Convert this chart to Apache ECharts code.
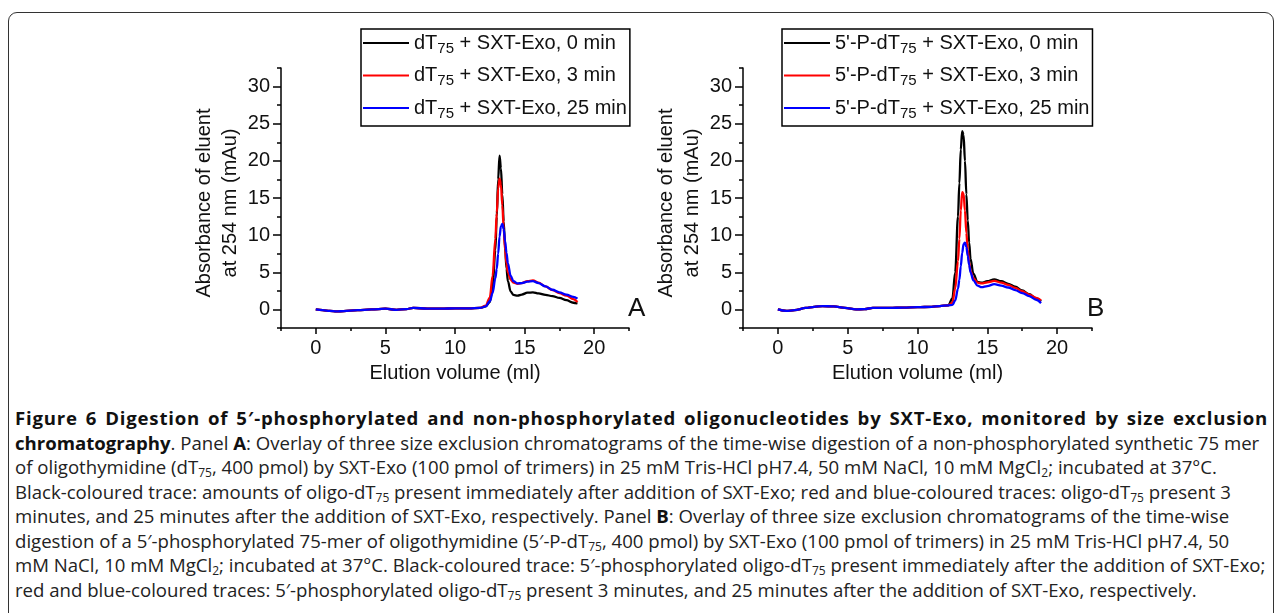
<!DOCTYPE html>
<html>
<head>
<meta charset="utf-8">
<script src="https://cdn.jsdelivr.net/npm/echarts@6/dist/echarts.min.js"></script>
<style>
  html, body { margin: 0; padding: 0; background: #fff; }
  #wrap { position: relative; width: 1282px; height: 613px; overflow: hidden; background: #fff; }
  #frame { position: absolute; left: 8px; top: 12px; width: 1266px; height: 640px; border: 1.5px solid #333; border-radius: 9px; box-sizing: border-box; }
  #chart { position: absolute; left: 0; top: 0; width: 1282px; height: 400px; }
  #caption { position: absolute; left: 15px; top: 406px; width: 1253px; font-family: "Open Sans", "Noto Sans", sans-serif; font-size: 18.6px; line-height: 24.5px; color: #222; }
  #caption div { white-space: nowrap; }
  #caption div.j { text-align: justify; text-align-last: justify; white-space: normal; letter-spacing: 0.8px; }
  #caption b { color: #111; }
  #caption sub { font-size: 12px; line-height: 0; vertical-align: -3px; }
</style>
</head>
<body>
<div id="wrap">
  <div id="frame"></div>
  <div id="chart"></div>
  <div id="caption">
    <div class="j"><b>Figure 6 Digestion of 5′-phosphorylated and non-phosphorylated oligonucleotides by SXT-Exo, monitored by size exclusion</b></div>
    <div><b>chromatography</b>. Panel <b>A</b>: Overlay of three size exclusion chromatograms of the time-wise digestion of a non-phosphorylated synthetic 75 mer</div>
    <div>of oligothymidine (dT<sub>75</sub>, 400 pmol) by SXT-Exo (100 pmol of trimers) in 25 mM Tris-HCl pH7.4, 50 mM NaCl, 10 mM MgCl<sub>2</sub>; incubated at 37°C.</div>
    <div>Black-coloured trace: amounts of oligo-dT<sub>75</sub> present immediately after addition of SXT-Exo; red and blue-coloured traces: oligo-dT<sub>75</sub> present 3</div>
    <div>minutes, and 25 minutes after the addition of SXT-Exo, respectively. Panel <b>B</b>: Overlay of three size exclusion chromatograms of the time-wise</div>
    <div>digestion of a 5′-phosphorylated 75-mer of oligothymidine (5′-P-dT<sub>75</sub>, 400 pmol) by SXT-Exo (100 pmol of trimers) in 25 mM Tris-HCl pH7.4, 50</div>
    <div>mM NaCl, 10 mM MgCl<sub>2</sub>; incubated at 37°C. Black-coloured trace: 5′-phosphorylated oligo-dT<sub>75</sub> present immediately after the addition of SXT-Exo;</div>
    <div>red and blue-coloured traces: 5′-phosphorylated oligo-dT<sub>75</sub> present 3 minutes, and 25 minutes after the addition of SXT-Exo, respectively.</div>
  </div>
</div>
<script>
// ---------- Data ----------
const xA = [0,0.5,1,1.5,2,3,4,5,5.8,6.5,7,8,9,10,11,11.8,12.2,12.5,12.7,12.9,13,13.1,13.2,13.3,13.4,13.5,13.6,13.7,13.8,14,14.2,14.5,14.8,15.2,15.6,16,16.5,17,17.5,18,18.5,18.8];
const aBlack = [0,-0.1,-0.2,-0.27,-0.22,-0.1,0,0.1,-0.05,0.05,0.2,0.12,0.1,0.15,0.15,0.2,
  0.4,1.0,3.0,8.0,12.5,17.5,20.7,19.0,15.5,11.8,8.3,5.5,3.8,2.4,1.95,1.85,2.0,2.25,2.3,2.15,1.95,1.8,1.55,1.25,0.9,0.8];
const aRed = [0,-0.1,-0.2,-0.27,-0.22,-0.1,0,0.1,-0.05,0.05,0.2,0.12,0.1,0.15,0.15,0.2,
  0.5,1.6,4.5,9.5,13.0,16.3,17.6,16.8,14.0,10.8,8.0,6.2,5.0,4.0,3.6,3.45,3.55,3.8,3.9,3.6,3.1,2.6,2.2,1.85,1.4,1.0];
const aBlue = [0,-0.1,-0.2,-0.27,-0.22,-0.1,0,0.1,-0.05,0.05,0.2,0.12,0.1,0.15,0.15,0.2,
  0.4,1.1,2.2,4.2,5.5,7.5,9.8,11.2,11.5,10.8,9.2,7.6,6.2,4.5,3.8,3.5,3.55,3.75,3.8,3.55,3.1,2.65,2.3,2.0,1.7,1.45];

const xB = [0,0.6,1.2,2,2.6,3.2,4,4.8,5.6,6.2,6.8,8,9,10,11,11.6,12.2,12.5,12.7,12.9,13,13.1,13.2,13.3,13.4,13.5,13.6,13.7,13.8,14,14.3,14.6,15,15.5,16,16.5,17,17.5,18,18.5,18.85];
const bBlack = [0,-0.2,-0.1,0.2,0.35,0.45,0.4,0.2,0.0,0.05,0.2,0.2,0.25,0.3,0.35,0.45,
  0.55,1.5,5.0,12.5,17.0,21.5,24.0,23.5,20.0,15.5,12.0,9.0,6.8,4.8,3.7,3.6,3.8,4.05,3.8,3.45,3.05,2.55,2.05,1.5,1.1];
const bRed = [0,-0.2,-0.1,0.2,0.35,0.45,0.4,0.2,0.0,0.05,0.2,0.2,0.25,0.3,0.35,0.45,
  0.55,0.9,2.8,6.5,9.5,13.3,15.8,15.6,13.3,10.3,8.0,6.3,5.2,4.2,3.6,3.5,3.65,3.85,3.6,3.3,2.9,2.45,2.0,1.55,1.2];
const bBlue = [0,-0.2,-0.1,0.2,0.35,0.45,0.4,0.2,0.0,0.05,0.2,0.2,0.25,0.3,0.35,0.45,
  0.55,0.6,1.2,2.8,4.0,5.8,7.6,8.8,9.0,8.4,7.2,6.0,5.0,3.9,3.2,3.0,3.15,3.4,3.2,2.95,2.6,2.2,1.8,1.3,0.85];

const namesA = ['dT_75 + SXT-Exo, 0 min', 'dT_75 + SXT-Exo, 3 min', 'dT_75 + SXT-Exo, 25 min'];
const namesB = ["5'-P-dT_75 + SXT-Exo, 0 min", "5'-P-dT_75 + SXT-Exo, 3 min", "5'-P-dT_75 + SXT-Exo, 25 min"];
const panelLabels = ['A', 'B'];

const xRange = [-2.5, 22.5];
const yRange = [-2.5, 32.5];
const xMajor = [0, 5, 10, 15, 20];
const xMinor = [-2.5, 2.5, 7.5, 12.5, 17.5, 22.5];
const yMajor = [0, 5, 10, 15, 20, 25, 30];
const yMinor = [-2.5, 2.5, 7.5, 12.5, 17.5, 22.5, 27.5, 32.5];
const xTitle = 'Elution volume (ml)';
const yTitle = 'Absorbance of eluent\nat 254 nm (mAu)';
const colors = ['#000000', '#ff0000', '#0000ff'];

// ---------- Chart ----------
const FONT = '"Liberation Sans", Arial, sans-serif';
const chart = echarts.init(document.getElementById('chart'), null, { renderer: 'canvas' });

const grids = [
  { left: 281, top: 68, width: 348, height: 260 },
  { left: 743, top: 68, width: 349, height: 260 }
];

function pairs(xs, ys) { return xs.map((x, i) => [x, ys[i]]); }

const xAxes = [], yAxes = [];
grids.forEach((g, gi) => {
  xAxes.push({
    type: 'value', gridIndex: gi, min: xRange[0], max: xRange[1], splitNumber: 5,
    axisLine: { show: true, onZero: false, lineStyle: { color: '#000', width: 1.5 } },
    axisTick: { show: true, customValues: xMajor, length: 6, lineStyle: { color: '#000', width: 1.5 } },
    axisLabel: { customValues: xMajor, margin: 10, fontSize: 20, color: '#111', fontFamily: FONT },
    splitLine: { show: false },
    name: xTitle, nameLocation: 'middle', nameGap: 35,
    nameTextStyle: { fontSize: 20, color: '#111', fontFamily: FONT }
  });
  xAxes.push({
    type: 'value', gridIndex: gi, min: xRange[0], max: xRange[1], position: 'bottom',
    axisLine: { show: false, onZero: false },
    axisTick: { show: true, customValues: xMinor, length: 3, lineStyle: { color: '#000', width: 1.5 } },
    axisLabel: { show: false }, splitLine: { show: false }
  });
  yAxes.push({
    type: 'value', gridIndex: gi, min: yRange[0], max: yRange[1], splitNumber: 7,
    axisLine: { show: true, onZero: false, lineStyle: { color: '#000', width: 1.5 } },
    axisTick: { show: true, customValues: yMajor, length: 8, lineStyle: { color: '#000', width: 1.5 } },
    axisLabel: { customValues: yMajor, margin: 11, fontSize: 20, color: '#111', fontFamily: FONT },
    splitLine: { show: false },
    name: yTitle, nameLocation: 'middle', nameGap: 32,
    nameTextStyle: { fontSize: 20, lineHeight: 26, color: '#111', fontFamily: FONT, align: 'center', padding: [0, 10, 0, 0] }
  });
  yAxes.push({
    type: 'value', gridIndex: gi, min: yRange[0], max: yRange[1], position: 'left',
    axisLine: { show: false, onZero: false },
    axisTick: { show: true, customValues: yMinor, length: 4, lineStyle: { color: '#000', width: 1.5 } },
    axisLabel: { show: false }, splitLine: { show: false }
  });
});

const series = [];
[[xA, [aBlack, aRed, aBlue], namesA], [xB, [bBlack, bRed, bBlue], namesB]].forEach((p, gi) => {
  p[1].forEach((ys, si) => {
    series.push({
      type: 'line', name: p[2][si], xAxisIndex: gi * 2, yAxisIndex: gi * 2,
      data: pairs(p[0], ys), smooth: 0.35, smoothMonotone: 'x', showSymbol: false, symbol: 'none',
      lineStyle: { color: colors[si], width: 2.3 }, itemStyle: { color: colors[si] },
      z: 2 + si, silent: true, animation: false
    });
  });
});

function legendFmt(name) {
  const m = name.split('_');
  const sub = m[1].match(/^(\d+)(.*)$/);
  return '{n|' + m[0] + '}{s|' + sub[1] + '}{n|' + sub[2] + '}';
}
const legendText = {
  fontFamily: FONT, color: '#111',
  rich: {
    n: { fontSize: 20, lineHeight: 26, fontFamily: FONT, color: '#111' },
    s: { fontSize: 15, lineHeight: 8, verticalAlign: 'bottom', fontFamily: FONT, color: '#111' }
  }
};
const legends = [
  { data: namesA, left: 361, top: 29 },
  { data: namesB, left: 782, top: 29 }
].map(l => ({
  data: l.data, left: l.left, top: l.top, orient: 'vertical',
  itemWidth: 46, itemHeight: 14, itemGap: 9.5, padding: [4, 3, 5, 2],
  borderColor: '#000', borderWidth: 1.5, backgroundColor: '#fff',
  formatter: legendFmt, textStyle: legendText, selectedMode: false,
  icon: 'path://M0,6 L46,6 L46,8 L0,8 Z'
}));

const graphics = [
  { type: 'text', left: 628, top: 296, style: { text: panelLabels[0], font: '26px ' + FONT, fill: '#111' } },
  { type: 'text', left: 1087, top: 296, style: { text: panelLabels[1], font: '26px ' + FONT, fill: '#111' } }
];

chart.setOption({
  animation: false,
  backgroundColor: 'transparent',
  grid: grids,
  xAxis: xAxes,
  yAxis: yAxes,
  legend: legends,
  series: series,
  graphic: graphics
});
</script>
</body>
</html>
